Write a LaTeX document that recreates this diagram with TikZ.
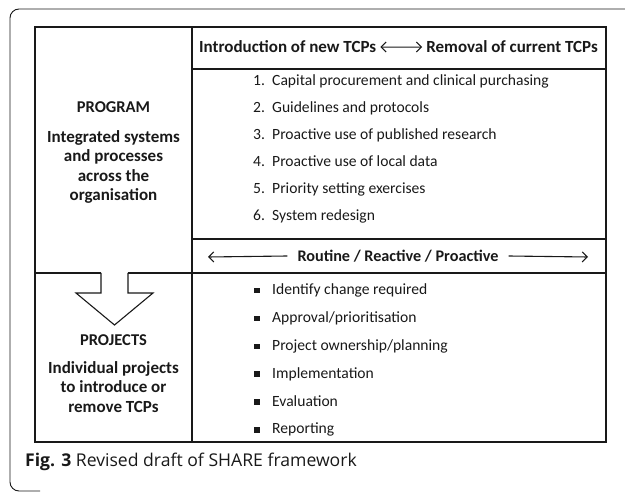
\documentclass[tikz,border=0pt]{standalone}
\usepackage{fontspec}
\setmainfont{Carlito}
\newfontfamily\capfont{Open Sans}
\usetikzlibrary{arrows.meta,positioning,calc}
\definecolor{ink}{RGB}{25,25,25}

\begin{document}
\begin{tikzpicture}[x=1pt,y=-1pt,font=\fontsize{15.6}{18}\selectfont,text=ink,
grid/.style={draw=ink,line width=1.3pt},
head/.style={font=\bfseries\fontsize{17}{19.5}\selectfont,align=center,inner sep=0pt},
item/.style={anchor=base west,inner sep=0pt},
arr/.style={-{Straight Barb[length=5pt,width=10pt]},line width=1.1pt,draw=ink},
dbl/.style={{Straight Barb[length=5pt,width=10pt]}-{Straight Barb[length=5pt,width=10pt]},line width=1.1pt,draw=ink}]

\path[use as bounding box,clip](0,0)rectangle(625,492);
% outer frame, only its top and left sides show
\draw[line width=.9pt,draw=ink,rounded corners=9pt](640,9)--(10,9)--(10,491)--(40,491);

% table rules
\draw[grid](35,27)rectangle(606,442);
\draw[grid](192,27)--(192,442);
\draw[grid](192,69)--(606,69);
\draw[grid](192,239)--(606,239);
\draw[grid](35,273)--(101,273) (128,273)--(606,273);

% block arrow from program down to projects
\draw[grid,line width=1.1pt,line join=miter](101,273)--(101,293)--(76,293)--(114.5,325)--(153,293)--(128,293)--(128,273);

% header row
\node[head,anchor=base west](intro)at(199,53){Introduction of new TCPs};
\node[head,anchor=base east](removal)at(598,53){Removal of current TCPs};
\draw[dbl,shorten <=4pt,shorten >=4pt](intro)--(removal);

% left column
\node[head,font=\bfseries\fontsize{16.5}{19.5}\selectfont](prog)at(113.5,107){PROGRAM};
\node[head](progdesc)at(113.5,167){Integrated systems\\and processes\\across the\\organisation};
\node[head,font=\bfseries\fontsize{16.5}{19.5}\selectfont](proj)at(113.5,340){PROJECTS};
\node[head](projdesc)at(113.5,387){Individual projects\\to introduce or\\remove TCPs};

% mechanisms
\foreach \n/\t in {1/Capital procurement and clinical purchasing,2/Guidelines and protocols,
  3/Proactive use of published research,4/Proactive use of local data,
  5/Priority setting exercises,6/System redesign}{
  \node[item](num\n)at(253,86+27*\n-27){\n.};
  \node[item](mech\n)at(272,86+27*\n-27){\t};
}

% routine row
\node[head,font=\bfseries\fontsize{16.2}{19.5}\selectfont,inner sep=10pt](routine)at(398,256){Routine / Reactive / Proactive};
\coordinate(rl)at(208,257);
\coordinate(rr)at(588,257);
\draw[arr](routine.west)--(rl);
\draw[arr](routine.east)--(rr);

% project steps
\foreach \n/\t in {1/{Identify change required},2/{Approval/prioritisation},
  3/{Project ownership/planning},4/{Implementation},5/{Evaluation},6/{Reporting}}{
  \node[item](step\n)at(272,295+27.8*\n-27.8){\t};
  \fill[ink]($(step\n.base west)+(-18,-7)$)rectangle++(5.5,5.5);
}

% caption
\node[anchor=base west,inner sep=0pt,font=\capfont\fontsize{17.6}{21}\selectfont](cap)at(25,467)
  {\textbf{Fig. 3} Revised draft of SHARE framework};
\end{tikzpicture}
\end{document}
